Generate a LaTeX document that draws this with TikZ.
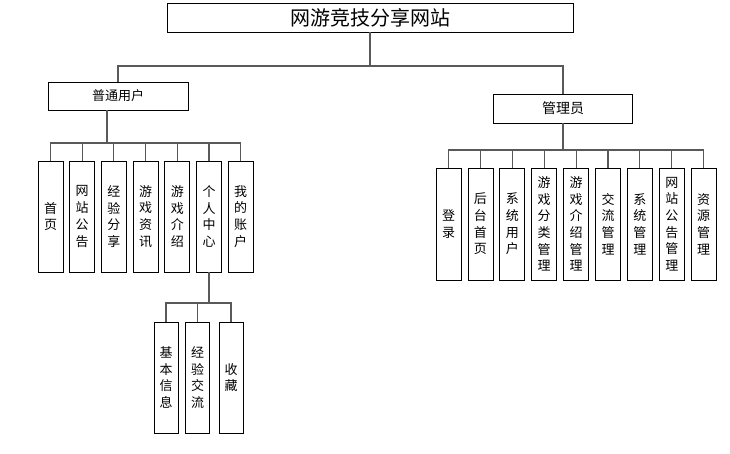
\documentclass[tikz,border=0pt]{standalone}
\usepackage{fontspec}
\newfontfamily\cjk{Noto Sans CJK SC}
\usetikzlibrary{positioning}

\tikzset{
  box/.style={draw, line width=0.8pt, inner sep=0pt, align=center},
  leaf/.style={box, minimum width=25pt, minimum height=111pt, font=\cjk\fontsize{13}{16.7}\selectfont},
  link/.style={draw=black!65, line width=1.1pt},
}

\begin{document}
\begin{tikzpicture}[x=1pt,y=-1pt]
\useasboundingbox (0,0) rectangle (730,454);

% top level
\node[box, minimum width=406pt, minimum height=29pt, font=\cjk\fontsize{20}{24}\selectfont] (root) at (370,17.5) {网游竞技分享网站};
\node[box, minimum width=140pt, minimum height=28pt, font=\cjk\fontsize{13}{16}\selectfont] (user) at (118,96) {普通用户};
\node[box, minimum width=139pt, minimum height=29pt, font=\cjk\fontsize{14}{16}\selectfont] (admin) at (563,108.5) {管理员};

\coordinate (top bus) at (370,66);
\draw[link] (root) -- (top bus);
\draw[link] (user.north) |- (top bus) -| (admin.north);

% user functions
\foreach \t [count=\i] in {首\\页, 网\\站\\公\\告, 经\\验\\分\\享, 游\\戏\\资\\讯,
    游\\戏\\介\\绍, 个\\人\\中\\心, 我\\的\\账\\户}
  \node[leaf] (u\i) at ({50.5+31.7*(\i-1)},216.5) {\t};

\coordinate (user bus) at (107,143);
\draw[link] ([xshift=-11pt]user.south) -- (user bus);
\draw[link] (u1.north) |- (u7.north |- user bus) -- (u7.north);
\foreach \i in {2,...,6}
  \draw[link] (u\i.north) -- (u\i.north |- user bus);

% personal center
\node[leaf, minimum width=24pt] (p1) at (166,377.5) {基\\本\\信\\息};
\node[leaf, minimum width=24pt] (p2) at (197.5,377.5) {经\\验\\交\\流};
\node[leaf, minimum width=24pt] (p3) at (231,377.5) {收\\藏};

\coordinate (sub bus) at (u6.south |- 0,303);
\draw[link] (u6.south) -- (sub bus);
\draw[link] (p1.north) |- (p3.north |- sub bus) -- (p3.north);
\draw[link] (p2.north) -- (p2.north |- sub bus);

% admin functions
\foreach \t [count=\i] in {登\\录, 后\\台\\首\\页, 系\\统\\用\\户, 游\\戏\\分\\类\\管\\理,
    游\\戏\\介\\绍\\管\\理, 交\\流\\管\\理, 系\\统\\管\\理, 网\\站\\公\\告\\管\\理, 资\\源\\管\\理}
  \node[leaf, minimum height=112pt] (a\i) at ({448.5+31.9*(\i-1)},224) {\t};

\coordinate (admin bus) at (admin.south |- 0,150);
\draw[link] (admin.south) -- (admin bus);
\draw[link] (a1.north) |- (a9.north |- admin bus) -- (a9.north);
\foreach \i in {2,...,8}
  \draw[link] (a\i.north) -- (a\i.north |- admin bus);
\end{tikzpicture}
\end{document}
